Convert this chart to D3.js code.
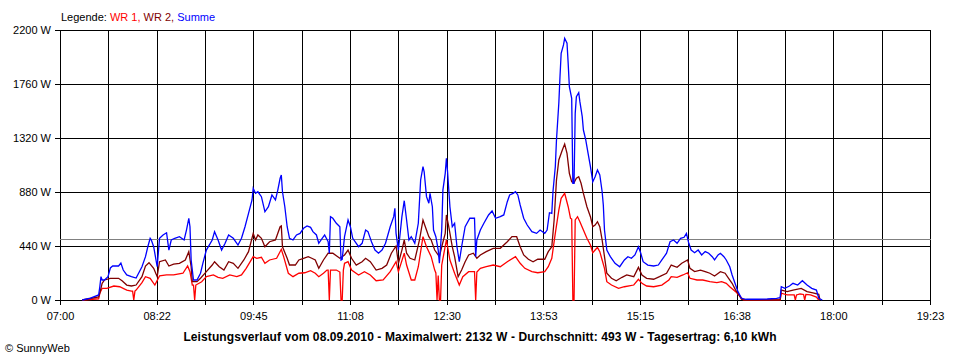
<!DOCTYPE html>
<html><head><meta charset="utf-8">
<script src="https://cdn.jsdelivr.net/npm/d3@7"></script>
<style>
html,body{margin:0;padding:0;background:#fff;}
svg{display:block;font-family:"Liberation Sans",Arial,sans-serif;}
</style></head><body>
<svg id="c" width="960" height="360"></svg>
<script>
const xTickLabels = ["07:00","08:22","09:45","11:08","12:30","13:53","15:15","16:38","18:00","19:23"];
const yTicks = [0,440,880,1320,1760,2200];
const avgValue = 493;
const legendItems = [["Legende: ","#000000"],["WR 1, ","#ff0000"],["WR 2, ","#800000"],["Summe","#0000ff"]];
const title = "Leistungsverlauf vom 08.09.2010 - Maximalwert: 2132 W - Durchschnitt: 493 W - Tagesertrag: 6,10 kWh";
const copyright = "\u00a9 SunnyWeb";

const summe = [["07:19",0],["07:26",16],["07:33",41],["07:34",108],["07:35",190],["07:36",163],["07:38",163],["07:41",190],["07:43",261],["07:45",277],["07:50",277],["07:52",301],["07:54",244],["07:57",204],["08:01",190],["08:05",179],["08:10",271],["08:13",353],["08:15",434],["08:17",503],["08:18",489],["08:20",434],["08:23",271],["08:25",503],["08:28",530],["08:31",548],["08:33",407],["08:35",489],["08:38",503],["08:42",516],["08:46",489],["08:48",570],["08:50",666],["08:51",597],["08:52",326],["08:54",163],["08:57",163],["09:00",218],["09:02",299],["09:05",407],["09:10",489],["09:12",557],["09:15",489],["09:18",407],["09:21",462],["09:24",530],["09:28",503],["09:32",448],["09:35",503],["09:38",597],["09:41",706],["09:44",815],["09:45",910],["09:47",869],["09:49",882],["09:52",842],["09:55",719],["09:58",760],["10:01",856],["10:04",815],["10:06",896],["10:08",992],["10:09",1019],["10:10",882],["10:12",760],["10:14",597],["10:16",503],["10:19",489],["10:22",530],["10:25",543],["10:28",584],["10:31",603],["10:34",592],["10:36",557],["10:39",530],["10:41",462],["10:43",489],["10:46",530],["10:49",475],["10:50",381],["10:51",679],["10:53",666],["10:56",625],["10:59",597],["11:00",326],["11:01",332],["11:03",516],["11:06",652],["11:08",597],["11:10",503],["11:15",434],["11:18",462],["11:21",570],["11:23",557],["11:26",475],["11:29",407],["11:32",381],["11:35",407],["11:38",462],["11:42",597],["11:45",679],["11:46",747],["11:47",543],["11:49",407],["11:52",679],["11:54",809],["11:56",652],["11:58",489],["12:00",516],["12:03",462],["12:06",625],["12:08",978],["12:10",1086],["12:11",1045],["12:13",842],["12:15",788],["12:16",869],["12:18",760],["12:19",570],["12:21",516],["12:23",407],["12:24",299],["12:26",570],["12:27",896],["12:29",1032],["12:30",1155],["12:31",1045],["12:33",760],["12:35",597],["12:37",625],["12:39",434],["12:41",312],["12:43",434],["12:46",597],["12:50",666],["12:54",666],["12:55",353],["12:56",489],["12:59",570],["13:02",625],["13:06",693],["13:09",725],["13:12",666],["13:16",679],["13:19",693],["13:22",801],["13:24",856],["13:27",869],["13:29",882],["13:31",856],["13:33",774],["13:36",666],["13:39",611],["13:43",557],["13:47",543],["13:50",570],["13:54",543],["13:56",570],["13:58",711],["14:00",706],["14:01",882],["14:03",1086],["14:04",1304],["14:06",1603],["14:07",1819],["14:08",2010],["14:10",2078],["14:11",2132],["14:13",2092],["14:14",1928],["14:15",1738],["14:17",1643],["14:18",951],["14:19",951],["14:20",1521],["14:21",1657],["14:23",1689],["14:24",1616],["14:26",1494],["14:27",1385],["14:29",1304],["14:31",1195],["14:33",1086],["14:35",964],["14:37",1005],["14:39",1059],["14:41",1019],["14:43",882],["14:44",774],["14:45",570],["14:47",407],["14:50",353],["14:54",299],["14:58",271],["15:02",326],["15:05",353],["15:08",340],["15:11",367],["15:14",434],["15:16",381],["15:18",312],["15:22",285],["15:27",277],["15:31",285],["15:34",326],["15:38",381],["15:41",475],["15:44",489],["15:47",462],["15:50",503],["15:53",511],["15:55",543],["15:57",462],["15:59",407],["16:02",385],["16:05",407],["16:08",367],["16:11",394],["16:14",381],["16:17",353],["16:19",326],["16:22",367],["16:24",381],["16:27",353],["16:29",326],["16:32",271],["16:34",204],["16:37",122],["16:39",68],["16:42",14],["16:46",6],["16:55",6],["17:04",8],["17:12",14],["17:15",19],["17:16",108],["17:19",95],["17:23",114],["17:26",136],["17:30",122],["17:34",157],["17:38",122],["17:42",95],["17:46",81],["17:48",14],["17:51",0]];

const wr2 = [["07:19",0],["07:33",25],["07:34",57],["07:36",136],["07:38",163],["07:43",177],["07:50",177],["07:53",157],["07:57",122],["08:01",114],["08:05",122],["08:10",190],["08:13",277],["08:16",304],["08:20",258],["08:23",190],["08:25",312],["08:30",326],["08:33",277],["08:37",293],["08:42",299],["08:47",326],["08:50",394],["08:52",271],["08:53",149],["08:57",149],["09:00",177],["09:05",231],["09:10",285],["09:12",312],["09:16",271],["09:20",244],["09:24",312],["09:28",299],["09:32",258],["09:37",326],["09:41",394],["09:45",543],["09:47",489],["09:49",530],["09:52",503],["09:55",434],["09:59",475],["10:04",489],["10:08",597],["10:09",603],["10:10",434],["10:14",340],["10:16",285],["10:21",285],["10:24",326],["10:28",340],["10:32",353],["10:35",340],["10:38",326],["10:41",258],["10:45",326],["10:49",381],["10:53",381],["10:59",340],["11:03",367],["11:06",407],["11:09",340],["11:13",285],["11:18",312],["11:21",340],["11:25",312],["11:30",244],["11:35",258],["11:39",285],["11:43",381],["11:47",440],["11:49",299],["11:52",407],["11:54",489],["11:56",381],["11:59",340],["12:03",326],["12:07",489],["12:10",652],["12:12",597],["12:15",516],["12:17",489],["12:20",407],["12:24",353],["12:26",434],["12:29",543],["12:30",693],["12:32",597],["12:35",434],["12:37",353],["12:40",190],["12:43",244],["12:46",312],["12:49",367],["12:53",381],["12:56",340],["12:59",367],["13:04",394],["13:10",421],["13:16",421],["13:22",475],["13:26",516],["13:30",516],["13:33",434],["13:36",367],["13:40",332],["13:44",312],["13:48",332],["13:54",332],["13:57",394],["14:00",434],["14:02",652],["14:04",978],["14:06",1141],["14:09",1222],["14:11",1271],["14:13",1195],["14:15",1032],["14:17",964],["14:19",956],["14:21",992],["14:23",1005],["14:25",951],["14:27",869],["14:30",760],["14:33",679],["14:35",597],["14:37",611],["14:39",638],["14:41",597],["14:43",489],["14:45",353],["14:47",218],["14:51",177],["14:55",157],["15:00",185],["15:04",204],["15:10",190],["15:14",266],["15:17",204],["15:21",177],["15:27",169],["15:32",190],["15:38",218],["15:42",285],["15:47",266],["15:51",299],["15:56",326],["15:58",258],["16:02",231],["16:07",244],["16:11",231],["16:15",218],["16:19",196],["16:24",231],["16:28",218],["16:31",177],["16:34",136],["16:37",81],["16:39",55],["16:42",6],["16:44",0],["17:15",0],["17:16",81],["17:21",68],["17:26",81],["17:33",95],["17:38",68],["17:43",59],["17:48",46],["17:49",0]];

const wr1 = [["07:19",0],["07:33",10],["07:34",55],["07:36",95],["07:40",95],["07:46",114],["07:51",108],["07:57",81],["08:01",73],["08:02",73],["08:03",0],["08:04",73],["08:05",81],["08:10",141],["08:13",190],["08:17",177],["08:21",122],["08:25",196],["08:31",204],["08:37",204],["08:45",218],["08:49",277],["08:51",231],["08:53",122],["08:54",122],["08:55",0],["08:56",122],["09:01",149],["09:05",190],["09:11",204],["09:15",185],["09:19",177],["09:25",204],["09:31",190],["09:35",204],["09:39",258],["09:45",353],["09:48",340],["09:52",348],["09:55",299],["09:59",326],["10:05",340],["10:09",413],["10:11",353],["10:15",218],["10:19",190],["10:24",218],["10:29",222],["10:34",239],["10:38",218],["10:41",190],["10:45",218],["10:48",244],["10:49",244],["10:50",0],["10:51",244],["10:56",244],["10:59",228],["11:00",0],["11:01",0],["11:02",244],["11:03",299],["11:06",312],["11:09",244],["11:15",204],["11:20",231],["11:25",204],["11:30",157],["11:36",163],["11:42",231],["11:47",312],["11:49",231],["11:54",381],["11:56",285],["12:00",163],["12:03",163],["12:06",271],["12:10",516],["12:13",434],["12:17",353],["12:20",244],["12:21",220],["12:22",0],["12:23",200],["12:24",0],["12:25",0],["12:26",285],["12:30",489],["12:33",326],["12:37",218],["12:41",122],["12:44",190],["12:49",231],["12:54",231],["12:55",0],["12:56",228],["12:59",258],["13:04",271],["13:10",285],["13:16",271],["13:22",312],["13:29",353],["13:33",299],["13:37",258],["13:43",231],["13:48",222],["13:54",231],["13:57",271],["14:00",340],["14:03",543],["14:06",733],["14:08",829],["14:11",869],["14:14",760],["14:16",666],["14:17",660],["14:18",0],["14:19",0],["14:20",652],["14:22",679],["14:24",638],["14:27",570],["14:30",503],["14:33",448],["14:35",385],["14:37",407],["14:39",429],["14:41",394],["14:43",326],["14:45",258],["14:47",149],["14:51",122],["14:57",95],["15:02",108],["15:10",122],["15:14",169],["15:17",136],["15:21",114],["15:27",108],["15:34",122],["15:40",163],["15:42",190],["15:47",185],["15:52",204],["15:56",222],["15:58",177],["16:04",163],["16:09",163],["16:15",149],["16:21",141],["16:25",149],["16:29",136],["16:32",108],["16:37",68],["16:41",27],["16:44",0],["17:15",0],["17:16",55],["17:21",41],["17:26",41],["17:27",41],["17:28",0],["17:29",41],["17:32",49],["17:35",45],["17:36",0],["17:37",45],["17:41",41],["17:46",24],["17:48",0]];

const toMin = s => { const p = s.split(":"); return +p[0]*60 + +p[1]; };
const svg = d3.select("#c");
const x = d3.scaleLinear().domain([toMin(xTickLabels[0]), toMin(xTickLabels[xTickLabels.length-1])]).range([60, 930]);
const y = d3.scaleLinear().domain([0, 2200]).range([300, 30]);
const px = v => Math.round(v) + 0.5;

const d0 = x.domain()[0], d1 = x.domain()[1];
const gridTimes = d3.range(19).map(k => d0 + k*(d1-d0)/18);

const g = svg.append("g");
g.selectAll("line.vg").data(gridTimes).join("line")
  .attr("x1", d => px(x(d))).attr("x2", d => px(x(d)))
  .attr("y1", y(2200)).attr("y2", 305)
  .attr("stroke", "#000").attr("stroke-width", 1).attr("shape-rendering","crispEdges");
g.selectAll("line.hg").data(yTicks).join("line")
  .attr("x1", 55).attr("x2", 931)
  .attr("y1", d => px(y(d))).attr("y2", d => px(y(d)))
  .attr("stroke", "#000").attr("stroke-width", 1).attr("shape-rendering","crispEdges");
g.append("line").attr("x1", 60).attr("x2", 931)
  .attr("y1", px(y(avgValue))).attr("y2", px(y(avgValue)))
  .attr("stroke", "#808080").attr("stroke-width", 1).attr("shape-rendering","crispEdges");

g.selectAll("text.yl").data(yTicks).join("text")
  .attr("x", 51).attr("y", d => y(d) + 4)
  .attr("text-anchor", "end").attr("font-size", 11).attr("fill", "#000")
  .text(d => d + " W");
g.selectAll("text.xl").data(xTickLabels).join("text")
  .attr("x", (d,i) => x(gridTimes[i*2]) + 0.5).attr("y", 320)
  .attr("text-anchor", "middle").attr("font-size", 11).attr("fill", "#000")
  .text(d => d);

const line = d3.line().x(d => x(toMin(d[0]))).y(d => y(d[1]));
const series = [[wr1, "#ff0000"], [wr2, "#800000"], [summe, "#0000ff"]];
svg.selectAll("path.s").data(series).join("path")
  .attr("d", d => line(d[0])).attr("fill", "none")
  .attr("stroke", d => d[1]).attr("stroke-width", 1.3).attr("stroke-linejoin","miter");

const lg = svg.append("text").attr("x", 61).attr("y", 21).attr("font-size", 11);
lg.selectAll("tspan").data(legendItems).join("tspan").attr("fill", d => d[1]).attr("xml:space","preserve").text(d => d[0]);

svg.append("text").attr("x", 480).attr("y", 341).attr("text-anchor","middle")
  .attr("font-size", 12).attr("letter-spacing", 0.1).attr("font-weight","bold").attr("fill","#000").text(title);
svg.append("text").attr("x", 5).attr("y", 352).attr("font-size", 11).attr("fill","#000").text(copyright);
</script></body></html>
